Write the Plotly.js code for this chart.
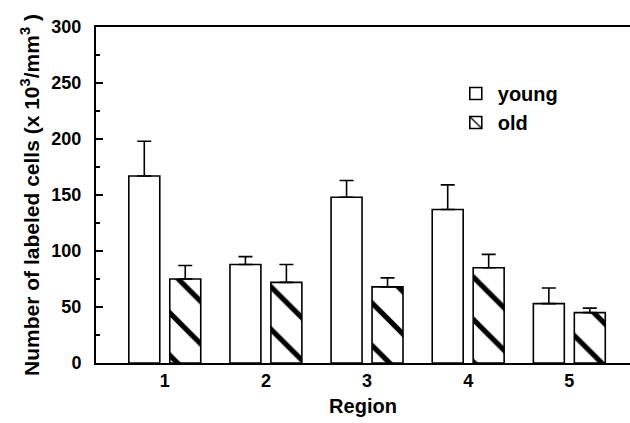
<!DOCTYPE html>
<html>
<head>
<meta charset="utf-8">
<script src="https://cdn.plot.ly/plotly-3.0.1.min.js"></script>
<style>html,body{margin:0;padding:0;background:#fff;}#chart{width:630px;height:423px;}</style>
</head>
<body>
<div id="chart"></div>
<script>
const regions = [1, 2, 3, 4, 5];
const regionLabels = ["1", "2", "3", "4", "5"];
const youngValues = [167, 88, 148, 137, 53];
const youngErrors = [31, 7, 15, 22, 14];
const oldValues = [75, 72, 68, 85, 45];
const oldErrors = [12, 16, 8, 12, 4];
const zeros = [0, 0, 0, 0, 0];

const FONT = "Liberation Sans, Arial, Helvetica, sans-serif";

const traces = [
  {
    type: "bar", name: "young", x: regions, y: youngValues,
    marker: {color: "#ffffff", line: {color: "#000", width: 1.6}},
    error_y: {type: "data", symmetric: false, array: youngErrors, arrayminus: zeros, color: "#000", thickness: 1.6, width: 7}
  },
  {
    type: "bar", name: "old", x: regions, y: oldValues,
    marker: {color: "#ffffff", line: {color: "#000", width: 1.6},
      pattern: {shape: "\\", size: 30, solidity: 0.17, fgcolor: "#000", bgcolor: "#fff"}},
    error_y: {type: "data", symmetric: false, array: oldErrors, arrayminus: zeros, color: "#000", thickness: 1.6, width: 7}
  }
];

const layout = {
  width: 630, height: 423,
  margin: {l: 96, r: 0, t: 27, b: 60},
  paper_bgcolor: "#fff", plot_bgcolor: "#fff",
  font: {family: FONT, color: "#000", size: 18, weight: "bold"},
  barmode: "group", bargap: 0.19, bargroupgap: 0.244,
  showlegend: true,
  legend: {x: 0.67, y: 0.86, xanchor: "left", yanchor: "top", bgcolor: "rgba(0,0,0,0)",
    font: {family: FONT, size: 20, color: "#000", weight: "bold"}, itemwidth: 34, tracegroupgap: 0},
  xaxis: {
    range: [0.32, 5.6], tickvals: regions, ticktext: regionLabels,
    showline: true, linecolor: "#000", linewidth: 2, mirror: true,
    ticks: "", showgrid: false, zeroline: false,
    tickfont: {family: FONT, size: 18, color: "#000", weight: "bold"},
    title: {text: "Region", font: {family: FONT, size: 20, color: "#000", weight: "bold"}, standoff: 9}
  },
  yaxis: {
    range: [0, 300], dtick: 50, tick0: 0,
    showline: true, linecolor: "#000", linewidth: 2,
    ticks: "inside", ticklen: 7, tickwidth: 1.5, tickcolor: "#000",
    minor: {dtick: 25, ticks: "inside", ticklen: 4, tickwidth: 1.2, tickcolor: "#000"},
    showgrid: false, zeroline: false, ticklabelstandoff: 9,
    tickfont: {family: FONT, size: 18, color: "#000", weight: "bold"},
    title: {text: "Number of labeled cells (x 10<sup>3</sup>/mm<sup>3</sup> )", font: {family: FONT, size: 21, color: "#000", weight: "bold"}, standoff: 6}
  }
};

Plotly.newPlot("chart", traces, layout, {displayModeBar: false, staticPlot: true});
</script>
</body>
</html>
